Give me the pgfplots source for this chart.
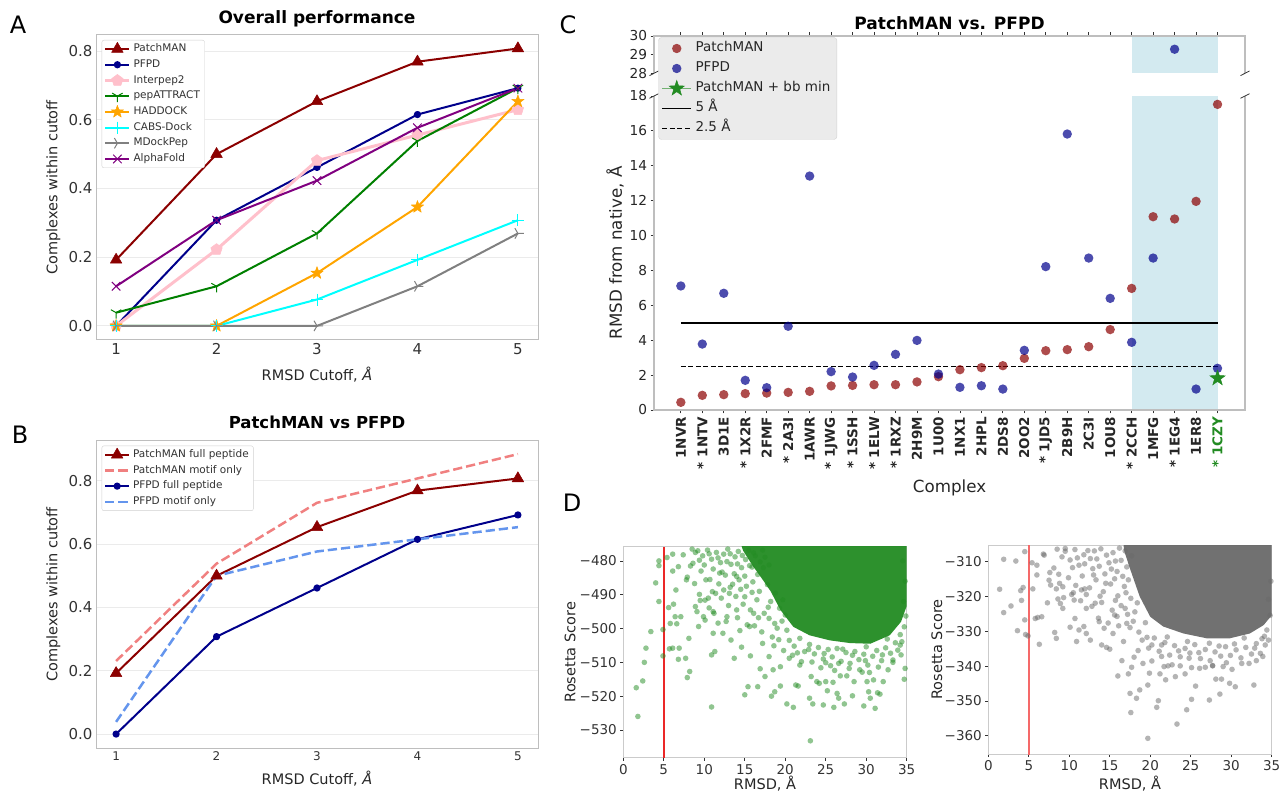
\documentclass[border=0pt]{standalone}
\usepackage{fontspec}
\setmainfont{DejaVu Sans}
\usepackage{pgfplots}
\pgfplotsset{compat=1.18}
\usetikzlibrary{plotmarks}

\definecolor{pmred}{RGB}{139,0,0}
\definecolor{pfblue}{RGB}{0,0,139}
\definecolor{ippink}{RGB}{255,192,203}
\definecolor{pagreen}{RGB}{0,128,0}
\definecolor{hdorange}{RGB}{255,165,0}
\definecolor{cbcyan}{RGB}{0,255,255}
\definecolor{mdgray}{RGB}{128,128,128}
\definecolor{afpurple}{RGB}{128,0,128}
\definecolor{lcoral}{RGB}{240,128,128}
\definecolor{cfblue}{RGB}{100,149,237}
\definecolor{fgreen}{RGB}{34,139,34}
\definecolor{dgray}{RGB}{105,105,105}
\definecolor{spanblue}{RGB}{211,234,240}
\definecolor{framec}{RGB}{190,190,190}
\definecolor{gridc}{RGB}{235,235,235}
\definecolor{txt}{RGB}{38,38,38}
\definecolor{tck}{RGB}{51,51,51}
\definecolor{legbg}{RGB}{235,235,235}
\definecolor{legdraw}{RGB}{210,210,210}
\definecolor{rline}{RGB}{235,40,40}
\definecolor{rline2}{RGB}{245,105,105}

\newcommand{\fs}[1]{\fontsize{#1}{#1}\selectfont}

% matplotlib-like markers
\pgfdeclareplotmark{fstar}{%
  \pgfpathmoveto{\pgfpointpolar{90}{\pgfplotmarksize}}%
  \pgfpathlineto{\pgfpointpolar{126}{0.4*\pgfplotmarksize}}%
  \pgfpathlineto{\pgfpointpolar{162}{\pgfplotmarksize}}%
  \pgfpathlineto{\pgfpointpolar{198}{0.4*\pgfplotmarksize}}%
  \pgfpathlineto{\pgfpointpolar{234}{\pgfplotmarksize}}%
  \pgfpathlineto{\pgfpointpolar{270}{0.4*\pgfplotmarksize}}%
  \pgfpathlineto{\pgfpointpolar{306}{\pgfplotmarksize}}%
  \pgfpathlineto{\pgfpointpolar{342}{0.4*\pgfplotmarksize}}%
  \pgfpathlineto{\pgfpointpolar{18}{\pgfplotmarksize}}%
  \pgfpathlineto{\pgfpointpolar{54}{0.4*\pgfplotmarksize}}%
  \pgfpathclose
  \pgfusepathqfillstroke}
\pgfdeclareplotmark{tridown}{%
  \pgfpathmoveto{\pgfpointorigin}\pgfpathlineto{\pgfpointpolar{270}{\pgfplotmarksize}}%
  \pgfpathmoveto{\pgfpointorigin}\pgfpathlineto{\pgfpointpolar{30}{\pgfplotmarksize}}%
  \pgfpathmoveto{\pgfpointorigin}\pgfpathlineto{\pgfpointpolar{150}{\pgfplotmarksize}}%
  \pgfusepathqstroke}
\pgfdeclareplotmark{triright}{%
  \pgfpathmoveto{\pgfpointorigin}\pgfpathlineto{\pgfpointpolar{0}{\pgfplotmarksize}}%
  \pgfpathmoveto{\pgfpointorigin}\pgfpathlineto{\pgfpointpolar{120}{\pgfplotmarksize}}%
  \pgfpathmoveto{\pgfpointorigin}\pgfpathlineto{\pgfpointpolar{240}{\pgfplotmarksize}}%
  \pgfusepathqstroke}

\pgfplotsset{
  every axis/.append style={scale only axis, anchor=south west,
    /pgf/number format/assume math mode=true},
  abstyle/.style={
    width=442pt, xmin=0.8, xmax=5.2, xtick={1,2,3,4,5},
    ytick={0,0.2,0.4,0.6,0.8}, yticklabels={0.0,0.2,0.4,0.6,0.8},
    axis line style={draw=framec, line width=1pt},
    ymajorgrids, grid style={draw=gridc, line width=1pt},
    major tick length=0pt,
    tick label style={text=tck},
    yticklabel style={font=\fs{15}},
    label style={text=txt, font=\fs{14.5}},
    every axis plot/.append style={line join=round},
    legend cell align=left,
    legend image code/.code={\draw[mark repeat=2,mark phase=2] plot coordinates {(0pt,0pt)(12pt,0pt)(24pt,0pt)};},
    legend style={at={(0,1)}, anchor=north west, xshift=5.7pt, yshift=-5pt,
      font=\fs{10.5}, text=tck, draw=framec!70, fill=white, rounded corners=2pt,
      inner xsep=2pt, inner ysep=1pt,
      nodes={text height=8pt, text depth=2.5pt, inner sep=2.6pt}},
  },
  dstyle/.style={
    width=283.4pt, xmin=0, xmax=35, xtick={0,5,...,35},
    axis line style={draw=framec!80, line width=1pt},
    tick align=outside, major tick length=3pt, tick style={draw=tck, line width=0.8pt},
    xtick pos=left, ytick pos=left,
    tick label style={font=\fs{13.5}, text=tck},
    label style={font=\fs{14.5}, text=txt},
  },
}

\begin{document}
\begin{tikzpicture}
\useasboundingbox (0pt,0pt) rectangle (1282pt,793pt);

% ---------------- A ----------------
\begin{axis}[abstyle, at={(96pt,453pt)}, height=305pt, ymin=-0.041, ymax=0.847,
  xticklabel style={font=\fs{15}},
  title={Overall performance},
  title style={font=\bfseries\fs{17}, at={(0.5,1)}, anchor=base, yshift=5pt},
  xlabel={RMSD Cutoff, \textit{Å}}, ylabel={Complexes within cutoff},
  xlabel style={at={(axis description cs:0.5,-0.115)}, anchor=center},
  ylabel style={at={(axis description cs:-0.0966,0.5)}, anchor=center}]
\addplot[pmred, line width=2pt, mark=triangle*, mark size=6.7pt, mark options={solid, line width=0.5pt}]
  coordinates {(1,0.1923)(2,0.5)(3,0.6538)(4,0.7692)(5,0.8077)};
\addplot[pfblue, line width=2pt, mark=*, mark size=2.6pt, mark options={solid}]
  coordinates {(1,0)(2,0.3077)(3,0.4615)(4,0.6154)(5,0.6923)};
\addplot[ippink, line width=3pt, mark=pentagon*, mark size=6pt, mark options={solid, line width=0.5pt}]
  coordinates {(1,0)(2,0.2222)(3,0.4815)(4,0.5556)(5,0.6296)};
\addplot[pagreen, line width=2pt, mark=tridown, mark size=6pt, mark options={solid, line width=1pt}]
  coordinates {(1,0.0385)(2,0.1154)(3,0.2692)(4,0.5385)(5,0.6923)};
\addplot[hdorange, line width=2pt, mark=fstar, mark size=6.5pt, mark options={solid, line width=0.5pt}]
  coordinates {(1,0)(2,0)(3,0.1538)(4,0.3462)(5,0.6538)};
\addplot[cbcyan, line width=2pt, mark=+, mark size=6pt, mark options={solid, line width=1pt}]
  coordinates {(1,0)(2,0)(3,0.0769)(4,0.1923)(5,0.3077)};
\addplot[mdgray, line width=2pt, mark=triright, mark size=6pt, mark options={solid, line width=1pt}]
  coordinates {(1,0)(2,0)(3,0)(4,0.1154)(5,0.2692)};
\addplot[afpurple, line width=2pt, mark=x, mark size=6pt, mark options={solid, line width=1pt}]
  coordinates {(1,0.1154)(2,0.3077)(3,0.4231)(4,0.5769)(5,0.6923)};
\legend{PatchMAN,PFPD,Interpep2,pepATTRACT,HADDOCK,CABS-Dock,MDockPep,AlphaFold}
\end{axis}

% ---------------- B ----------------
\begin{axis}[abstyle, at={(96pt,44.7pt)}, height=307.6pt, ymin=-0.045, ymax=0.927,
  xticklabel style={font=\fs{12}},
  title={PatchMAN vs PFPD},
  title style={font=\bfseries\fs{16.5}, at={(0.5,1)}, anchor=base, yshift=5.7pt},
  xlabel={RMSD Cutoff, \textit{Å}}, ylabel={Complexes within cutoff},
  xlabel style={at={(axis description cs:0.5,-0.1)}, anchor=center},
  ylabel style={at={(axis description cs:-0.0966,0.5)}, anchor=center}]
\addplot[pmred, line width=2pt, mark=triangle*, mark size=6.7pt, mark options={solid, line width=0.5pt}]
  coordinates {(1,0.1923)(2,0.5)(3,0.6538)(4,0.7692)(5,0.8077)};
\addplot[lcoral, line width=2.5pt, dash pattern=on 9.25pt off 4pt]
  coordinates {(1,0.2308)(2,0.5385)(3,0.7308)(4,0.8077)(5,0.8846)};
\addplot[pfblue, line width=2pt, mark=*, mark size=2.6pt, mark options={solid}]
  coordinates {(1,0)(2,0.3077)(3,0.4615)(4,0.6154)(5,0.6923)};
\addplot[cfblue, line width=2.5pt, dash pattern=on 9.25pt off 4pt]
  coordinates {(1,0.0385)(2,0.5)(3,0.5769)(4,0.6154)(5,0.6538)};
\legend{PatchMAN full peptide,PatchMAN motif only,PFPD full peptide,PFPD motif only}
\end{axis}

% ---------------- C (upper part) ----------------
\begin{axis}[at={(654pt,719.7pt)}, width=591pt, height=37.3pt,
  xmin=-1.25, xmax=26.28, ymin=28, ymax=30,
  axis line style={draw=none}, clip mode=individual,
  xtick={0,...,25}, xticklabels={}, xtick pos=right,
  ytick={28,29,30}, ytick pos=left,
  tick align=outside, major tick length=3.5pt, tick style={draw=tck, line width=0.8pt},
  yticklabel style={font=\fs{13.7}, text=black!85}]
\addplot[fill=spanblue, draw=none, forget plot] coordinates {(21,28)(25,28)(25,30)(21,30)};
\addplot[only marks, mark=*, mark size=4.7pt, mark options={draw opacity=0, fill=pfblue, fill opacity=0.7}]
  coordinates {(23,29.29)};
\draw[framec, line width=1.2pt] (rel axis cs:0,0) -- (rel axis cs:0,1) -- (rel axis cs:1,1) -- (rel axis cs:1,0);
\draw[tck, line width=0.8pt] (rel axis cs:0,0) ++(-4.5pt,-2.3pt) -- ++(9pt,4.6pt);
\draw[tck, line width=0.8pt] (rel axis cs:1,0) ++(-4.5pt,-2.3pt) -- ++(9pt,4.6pt);
\end{axis}

% ---------------- C (lower part) ----------------
\begin{axis}[at={(654pt,383pt)}, width=591pt, height=314pt,
  xmin=-1.25, xmax=26.28, ymin=0, ymax=18,
  axis line style={draw=none}, clip mode=individual,
  xtick={0,...,25},
  xticklabels={1NVR,* 1NTV,3D1E,* 1X2R,2FMF,* 2A3I,1AWR,* 1JWG,* 1SSH,* 1ELW,* 1RXZ,2H9M,1U00,1NX1,2HPL,2DS8,2OO2,* 1JD5,2B9H,2C3I,1OU8,* 2CCH,1MFG,* 1EG4,1ER8,{\textcolor{fgreen}{* 1CZY}}},
  xtick pos=left, ytick={0,2,...,18}, ytick pos=left,
  tick align=outside, major tick length=3.5pt, tick style={draw=tck, line width=0.8pt},
  xticklabel style={rotate=90, anchor=east, font=\bfseries\fs{13.5}, text=black!85},
  yticklabel style={font=\fs{13.7}, text=black!85},
  xlabel={Complex}, ylabel={RMSD from native, Å},
  label style={font=\fs{16.7}, text=txt},
  xlabel style={at={(axis description cs:0.5,-0.248)}, anchor=center},
  ylabel style={at={(axis description cs:-0.066,0.5)}, anchor=center},
  title={PatchMAN vs. PFPD},
  title style={font=\bfseries\fs{17}, at={(0.5,1)}, anchor=base, yshift=60pt},
  legend cell align=left,
  legend image code/.code={\draw[mark repeat=2,mark phase=2] plot coordinates {(0pt,0pt)(14.5pt,0pt)(29pt,0pt)};},
  legend style={at={(0,1)}, anchor=north west, xshift=4.3pt, yshift=58.7pt,
    font=\fs{13.5}, text=black!85, fill=legbg, draw=legdraw, rounded corners=3pt,
    inner xsep=3pt, inner ysep=1pt,
    nodes={text height=10pt, text depth=3pt, inner sep=3.5pt}}]
\addplot[fill=spanblue, draw=none, forget plot] coordinates {(21,0)(25,0)(25,18)(21,18)};
\addplot[black, line width=1.5pt, forget plot] coordinates {(0,5)(25,5)};
\addplot[black, line width=1.5pt, dash pattern=on 5pt off 2.5pt, forget plot] coordinates {(0,2.5)(25,2.5)};
\addplot[only marks, mark=*, mark size=4.7pt, mark options={draw opacity=0, fill=pmred, fill opacity=0.7}]
  coordinates {(0,0.44)(1,0.84)(2,0.88)(3,0.94)(4,0.97)(5,1.01)(6,1.07)(7,1.38)(8,1.41)(9,1.45)
  (10,1.45)(11,1.61)(12,1.91)(13,2.31)(14,2.43)(15,2.54)(16,2.96)(17,3.40)(18,3.46)(19,3.63)
  (20,4.61)(21,6.97)(22,11.08)(23,10.95)(24,11.96)(25,17.52)};
\addlegendentry{PatchMAN}
\addplot[only marks, mark=*, mark size=4.7pt, mark options={draw opacity=0, fill=pfblue, fill opacity=0.7}]
  coordinates {(0,7.11)(1,3.78)(2,6.69)(3,1.70)(4,1.28)(5,4.80)(6,13.41)(7,2.20)(8,1.89)(9,2.56)
  (10,3.19)(11,3.99)(12,2.06)(13,1.30)(14,1.39)(15,1.20)(16,3.42)(17,8.22)(18,15.82)(19,8.71)
  (20,6.40)(21,3.88)(22,8.71)(24,1.20)(25,2.39)};
\addlegendentry{PFPD}
\addplot[fgreen, draw opacity=0.6, line width=1.3pt, mark=fstar, mark size=8pt,
  mark options={solid, draw opacity=1, fill=fgreen, line width=0.5pt}]
  coordinates {(25,1.82)};
\addlegendentry{PatchMAN + bb min}
\addlegendimage{black, line width=1.5pt}
\addlegendentry{5 Å}
\addlegendimage{black, line width=1.5pt, dash pattern=on 5pt off 2.5pt}
\addlegendentry{2.5 Å}
\draw[framec, line width=1.2pt] (rel axis cs:0,1) -- (rel axis cs:0,0) -- (rel axis cs:1,0) -- (rel axis cs:1,1);
\draw[tck, line width=0.8pt] (rel axis cs:0,1) ++(-4.5pt,-2.3pt) -- ++(9pt,4.6pt);
\draw[tck, line width=0.8pt] (rel axis cs:1,1) ++(-4.5pt,-2.3pt) -- ++(9pt,4.6pt);
\end{axis}

% ---------------- D (left) ----------------
\begin{axis}[dstyle, at={(623.3pt,35.3pt)}, height=211pt, ymin=-538.2, ymax=-475.8,
  ytick={-530,-520,-510,-500,-490,-480}, yticklabels={−530,−520,−510,−500,−490,−480},
  xlabel={RMSD, Å}, ylabel={Rosetta Score},
  xlabel style={at={(axis description cs:0.5,-0.125)}, anchor=center},
  ylabel style={at={(axis description cs:-0.188,0.5)}, anchor=center}]
\addplot[fill=fgreen, draw=none, fill opacity=0.95] coordinates {(13.8,-470)(14.8,-477)(16.0,-481.5)(17.2,-485.5)(18.2,-489)(19.4,-494.5)(21.0,-499.5)(23.0,-502)(25.5,-503.5)(28.0,-504.3)(30.5,-504.5)(32.9,-502)(34.3,-498)(35.5,-490)(35.5,-470)};
\addplot[only marks, mark=*, mark size=2.8pt, mark options={draw opacity=0, fill=fgreen, fill opacity=0.5}] coordinates {
(9.2,-477)(9.8,-478.5)(10.4,-476.8)(10.9,-479.5)(11.5,-477.5)(12.0,-480.5)(12.4,-478)(12.9,-476.5)(13.3,-481)(13.8,-478.8)
(14.2,-477.2)(14.6,-482)(15.1,-479.6)(15.5,-476.9)(15.9,-481.8)(16.3,-478.5)(16.6,-484)(9.6,-483)(10.7,-485.5)(11.8,-486.8)
(12.6,-484.2)(13.5,-486.9)(14.3,-485.6)(15.2,-487.5)(16.0,-486.2)(16.8,-489)(17.3,-482)(17.8,-487)(18.2,-492)(18.8,-489.5)
(19.3,-494)(12.1,-491)(13.0,-493.2)(13.9,-490.5)(14.8,-492.8)(15.7,-494.5)(16.5,-491.5)(17.4,-495.5)(18.0,-497)(18.7,-498.5)
(19.6,-497.8)(20.2,-500.5)(11.2,-495.5)(12.7,-497.9)(14.1,-496.8)(15.3,-498.9)(16.2,-499.2)(17.1,-501)(18.4,-502.5)(19.2,-503.3)
(8.3,-481.5)(8.8,-486.7)(9.4,-489.9)(10.1,-491.6)(10.6,-493.9)(7.9,-484.8)
(8.9,-477.5)(9.4,-479.8)(10.0,-481.2)(10.6,-477.9)(11.1,-482.4)(11.7,-479.1)(12.2,-483.3)(12.8,-480.2)(13.2,-477.9)(13.7,-483.8)
(14.1,-480.9)(14.7,-478.4)(15.0,-484.5)(15.6,-481.4)(16.1,-477.6)(16.9,-480.3)(17.5,-478.9)(18.0,-481.2)(17.2,-476.8)(15.9,-489.3)
(14.5,-488.4)(13.2,-487.8)(12.4,-488.6)(11.0,-489.1)(17.9,-493.7)(19.0,-499.9)(20.0,-496)(19.7,-491.5)(16.7,-496.8)(18.6,-505.1)
(21.5,-507.2)(23.3,-509.9)(26.6,-510.3)(29.9,-509.5)(32.0,-507.8)(33.9,-506.4)(34.4,-503.9)(27.1,-506.1)(24.8,-507.4)(22.9,-506.2)
(20.5,-503.5)(21.1,-505.2)(21.8,-502.9)(22.4,-506.8)(23.0,-504.7)(23.6,-507.5)(24.1,-505.6)(24.7,-509)(25.3,-506.2)(25.8,-508.4)
(26.4,-505.9)(26.9,-509.7)(27.5,-507.1)(28.0,-510.3)(28.6,-506.8)(29.1,-509.2)(29.7,-507.6)(30.2,-510.8)(30.8,-508.2)(31.3,-506.5)
(31.9,-509.5)(32.4,-505.7)(33.0,-507.3)(33.6,-504.2)(34.2,-501.8)(34.7,-499.5)(22.0,-509.8)(24.4,-511.6)(26.1,-512.4)(27.9,-511.8)
(29.5,-512.9)(31.5,-511.4)(33.3,-510)(20.9,-507.9)(19.8,-506.5)(25.0,-510.1)(28.3,-507.9)(30.0,-505.4)(32.6,-503.1)(34.9,-496.3)
(34.6,-492)(34.8,-486)(34.5,-480)
(1.6,-517.5)(1.8,-526)(2.4,-515.5)(2.6,-510)(2.8,-505.8)(3.4,-500.9)(4.0,-486.5)(4.4,-492)(4.4,-480)(4.4,-481.4)
(4.9,-500.3)(4.9,-508.1)(5.4,-479)(5.6,-493.8)(5.7,-506)(5.8,-498.5)(6.1,-478)(6.1,-483)(6.1,-505.8)(6.2,-492.8)
(6.4,-496.5)(6.5,-488.6)(6.6,-498.6)(6.8,-509.1)(6.9,-505.8)(7.1,-496.5)(6.8,-481.7)(7.4,-478.2)(7.7,-508.8)(7.8,-485.6)
(7.9,-514.5)(8.1,-502.9)(8.2,-512.7)(8.5,-476.5)(8.6,-480.7)(8.9,-493.5)(9.1,-495)(9.3,-499.4)(9.5,-491.7)(9.9,-496.5)
(10.1,-497.5)(10.2,-485.6)(10.5,-491)(10.9,-523.2)(10.9,-507.8)(11.1,-501.4)(11.3,-506.8)(11.1,-495)(11.4,-489.6)(11.7,-498.4)
(11.9,-483.6)(12.3,-501.4)(12.8,-496.5)(13.1,-489.6)(13.3,-503.4)(13.7,-508.8)(14.0,-494.5)(14.0,-484.6)(14.4,-500.6)(14.6,-505.5)
(15.0,-519.6)(15.0,-490.6)(15.4,-517.2)(15.7,-508.1)(15.6,-499.4)(16.1,-495.5)(16.6,-517.2)(16.9,-511.9)(17.2,-504.4)(17.5,-514.2)
(18.0,-508.3)(18.3,-520)(18.5,-512.2)(18.7,-518.7)(19.4,-511.3)(19.4,-517)(20.2,-522.3)(20.5,-508.8)(21.0,-523.3)(21.3,-516.7)
(21.6,-517)(21.8,-510.8)(23.0,-520.6)(23.1,-533.2)(23.2,-514.2)(23.4,-522.3)(23.9,-515.7)(24.2,-516.2)(24.7,-522.6)(25.2,-518.4)
(25.0,-515.7)(25.6,-511)(25.9,-515.9)(26.0,-523.3)(26.4,-519.2)(26.6,-520.6)(26.8,-514)(27.3,-522.3)(27.6,-514)(28.3,-519.9)
(28.5,-515.7)(29.2,-512.2)(29.7,-522.9)(30.1,-515.7)(30.3,-518.7)(30.4,-513)(30.5,-520.6)(31.1,-523.6)(30.9,-515.2)(31.4,-519)
(31.7,-519.4)(32.1,-515.7)(32.7,-512.2)(33.3,-509.3)(34.3,-507.8)(34.7,-515)(34.8,-511.8)(34.2,-504.9)};
\addplot[color=rline, draw=rline, line width=1.5pt] coordinates {(5,-538.2)(5,-475.8)};
\end{axis}

% ---------------- D (right) ----------------
\begin{axis}[dstyle, at={(988.3pt,39pt)}, height=209pt, ymin=-365.2, ymax=-305.2,
  ytick={-360,-350,-340,-330,-320,-310}, yticklabels={−360,−350,−340,−330,−320,−310},
  xlabel={RMSD, Å}, ylabel={Rosetta Score},
  xlabel style={at={(axis description cs:0.5,-0.14)}, anchor=center},
  ylabel style={at={(axis description cs:-0.182,0.5)}, anchor=center}]
\addplot[fill=dgray, draw=none, fill opacity=0.95] coordinates {(16.4,-300)(16.8,-307)(17.5,-312)(18.7,-320)(20,-325.8)(21.6,-328.6)(24.1,-330.6)(27,-332)(29.8,-332)(32.3,-330.6)(34,-328.2)(35.5,-324)(35.5,-300)};
\addplot[rline2, line width=1.8pt] coordinates {(5,-370)(5,-300)};
\addplot[only marks, mark=*, mark size=2.8pt, mark options={draw opacity=0, fill=dgray, fill opacity=0.5}] coordinates {
(9.5,-307)(10.1,-309.5)(10.7,-306.5)(11.2,-311)(11.8,-308)(12.3,-306.8)(12.9,-312)(13.4,-309.2)(13.9,-306.3)(14.4,-313.5)
(14.9,-310.3)(15.4,-307.4)(15.9,-312.8)(16.4,-309.6)(16.9,-306.9)(17.3,-315.2)(9.9,-314.6)(10.8,-316.8)(11.6,-314.1)(12.5,-317.5)
(13.3,-315.2)(14.2,-318.6)(15.1,-316.4)(16.0,-319.8)(16.8,-317.1)(17.6,-320.5)(11.4,-321.2)(12.8,-322.8)(14.0,-321.7)(15.3,-323.9)
(16.4,-322.6)(17.2,-325.1)(18.1,-324.4)(13.6,-326.2)(14.8,-327.6)(16.1,-328.4)(17.5,-328.9)(18.6,-330.2)(19.4,-327.5)(8.1,-311.8)
(8.8,-316.2)(9.3,-320.3)(7.6,-313.1)
(8.5,-306.4)(9.1,-308.6)(10.4,-311.7)(11.0,-308.9)(11.9,-310.6)(12.6,-309.1)(13.1,-306.9)(13.7,-311.3)(14.6,-308.1)(15.2,-312.1)
(15.7,-309.8)(16.2,-306.1)(16.6,-314.2)(17.1,-311.5)(17.7,-308.3)(17.0,-318.9)(15.6,-314.9)(14.5,-316.2)(13.0,-313.8)(11.9,-317.8)
(10.5,-318.9)(12.1,-319.4)(13.8,-319.9)(15.7,-321.1)(16.9,-323.4)(17.9,-327.1)(18.4,-321.8)(15.9,-325.7)(19.6,-331.7)(21.4,-333.9)
(23.5,-335.6)(26.0,-336.1)(28.5,-334.2)(30.4,-333.6)(32.9,-334.8)(34.1,-331.4)(24.6,-332.9)(27.3,-333.4)(22.1,-331.6)(31.6,-331.9)
(19.0,-332.5)(19.8,-334.8)(20.5,-331.9)(21.1,-335.7)(21.8,-333.2)(22.4,-336.8)(23.0,-334.1)(23.7,-337.3)(24.3,-334.9)(24.9,-336.2)
(25.5,-333.8)(26.2,-337.8)(26.8,-335.2)(27.4,-338.4)(28.0,-335.9)(28.7,-337.1)(29.3,-334.4)(29.9,-336.9)(30.6,-335.3)(31.2,-337.6)
(31.8,-334.6)(32.5,-336.5)(33.1,-333.5)(33.8,-332.1)(34.4,-329.6)(34.8,-325.4)(34.6,-320.8)(34.9,-315.6)(20.2,-338.5)(22.7,-339.6)
(25.1,-340.4)(27.7,-339.8)(30.1,-340.9)(32.2,-339.2)
(1.4,-317.9)(1.9,-324.6)(1.9,-309.3)(2.8,-322.7)(3.4,-309.8)(3.6,-329.8)(4.0,-318.3)(4.1,-321.1)(4.3,-317.4)(4.5,-326.7)
(4.5,-307.1)(4.6,-330.9)(4.9,-331.3)(5.4,-310.3)(5.5,-317.8)(5.8,-326.3)(6.0,-311)(6.0,-313.8)(6.1,-326)(6.3,-333.7)
(6.6,-325.8)(6.8,-307.8)(6.9,-308.1)(7.3,-321.8)(7.5,-315.3)(7.7,-316.7)(8.2,-330.3)(8.4,-317.8)(8.4,-332)(8.6,-320.7)
(8.7,-313.6)(8.9,-322)(9.2,-323.4)(9.2,-317.2)(9.5,-306.2)(10.1,-328.8)(10.3,-319.4)(10.6,-321)(10.9,-332.9)(10.7,-326.3)
(11.2,-329.6)(11.5,-318.1)(11.8,-328.6)(12.1,-330.6)(12.1,-323.4)(12.6,-332.5)(13.2,-321.9)(13.7,-327.2)(14.0,-333.9)(14.3,-329.1)
(14.6,-334.6)(15.0,-335.1)(15.4,-330.6)(15.6,-325.3)(16.0,-342.8)(16.5,-338.4)(16.7,-332.9)(17.1,-327.7)(17.3,-342.2)(17.5,-347.8)
(17.6,-353.3)(17.7,-340.3)(18.0,-337.4)(18.3,-349.2)(18.5,-335.5)(18.7,-346.8)(19.1,-339.2)(19.7,-360.7)(19.7,-345.4)(19.9,-342)
(20.2,-333.9)(20.8,-351.8)(21.0,-349.9)(21.2,-342.2)(21.4,-337.2)(21.7,-340.1)(21.9,-343.9)(22.2,-339.9)(23.1,-343)(23.3,-356.6)
(23.7,-339.9)(24.3,-342.2)(24.5,-352.5)(24.8,-337.7)(25.1,-349.5)(25.6,-345.7)(26.1,-340.6)(26.8,-340.3)(27.3,-349.7)(27.7,-339.9)
(28.1,-343.7)(28.6,-348)(28.8,-343.7)(29.0,-340.1)(29.4,-339)(29.8,-344.9)(30.5,-345.9)(31.3,-339.2)(32.8,-345.4)(33.1,-338.4)
(33.6,-336.3)(33.9,-337.2)(34.2,-333.9)(34.6,-332.5)};
\end{axis}

% panel letters
\node[font=\fs{24}] at (18pt,768pt) {A};
\node[font=\fs{24}] at (20pt,358pt) {B};
\node[font=\fs{24}] at (568pt,768pt) {C};
\node[font=\fs{24}] at (572pt,290pt) {D};
\end{tikzpicture}
\end{document}
